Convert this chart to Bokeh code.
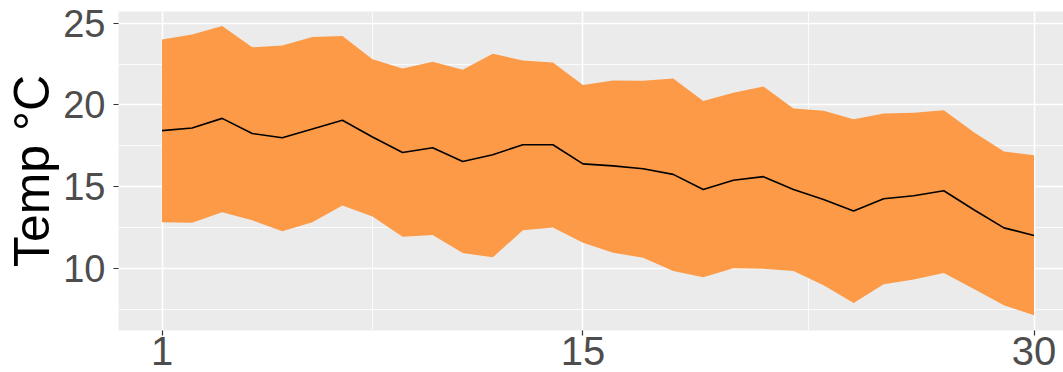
from bokeh.plotting import figure
from bokeh.models import Range1d, FixedTicker
from bokeh.embed import file_html
from bokeh.resources import INLINE

days = list(range(1, 31))
temp_upper = [24.0, 24.31, 24.82, 23.52, 23.64, 24.15, 24.21, 22.8, 22.23, 22.64,
              22.15, 23.13, 22.72, 22.6, 21.22, 21.5, 21.48, 21.62, 20.24, 20.75,
              21.13, 19.79, 19.64, 19.12, 19.48, 19.53, 19.67, 18.34, 17.16, 16.92]
temp_mean = [18.43, 18.59, 19.18, 18.26, 18.0, 18.53, 19.07, 18.04, 17.1, 17.39,
             16.55, 16.96, 17.57, 17.57, 16.4, 16.28, 16.1, 15.76, 14.83, 15.4,
             15.62, 14.83, 14.23, 13.52, 14.27, 14.45, 14.76, 13.6, 12.49, 12.03]
temp_lower = [12.84, 12.81, 13.45, 12.95, 12.28, 12.84, 13.85, 13.19, 11.95, 12.05,
              10.95, 10.69, 12.34, 12.52, 11.58, 10.97, 10.67, 9.85, 9.47, 10.03,
              10.0, 9.85, 8.98, 7.9, 9.04, 9.33, 9.73, 8.75, 7.76, 7.15]
x_ticks = [1, 15, 30]
x_minor = [8, 22.5]
y_ticks = [10, 15, 20, 25]
y_minor = [7.5, 12.5, 17.5, 22.5]

p = figure(width=1063, height=372, output_backend="svg", toolbar_location=None,
           x_range=Range1d(-0.447, 30.98), y_range=Range1d(6.22, 25.71),
           min_border_left=118, min_border_right=0, min_border_top=11,
           min_border_bottom=42)
p.background_fill_color = "#EBEBEB"
p.border_fill_color = "white"
p.outline_line_color = None

p.varea(x=days, y1=temp_lower, y2=temp_upper, fill_color="#FD9A48", fill_alpha=1.0)
p.line(x=days, y=temp_mean, line_color="black", line_width=1.6)

p.xaxis.ticker = FixedTicker(ticks=x_ticks, minor_ticks=x_minor)
p.yaxis.ticker = FixedTicker(ticks=y_ticks, minor_ticks=y_minor)

for g in (p.xgrid[0], p.ygrid[0]):
    g.grid_line_color = "white"
    g.grid_line_width = 1.6
    g.minor_grid_line_color = "white"
    g.minor_grid_line_width = 0.8
    g.level = "underlay"

for ax in (p.xaxis[0], p.yaxis[0]):
    ax.axis_line_color = None
    ax.major_tick_line_color = "#333333"
    ax.major_tick_line_width = 1.2
    ax.major_tick_in = 0
    ax.major_tick_out = 5
    ax.minor_tick_line_color = None
    ax.major_label_text_color = "#4D4D4D"
    ax.major_label_text_font = "Liberation Sans"

p.xaxis.major_label_text_font_size = "40px"
p.xaxis.major_label_standoff = 1
p.yaxis.major_label_text_font_size = "38px"
p.yaxis.major_label_standoff = 8
p.yaxis.axis_label = "Temp °C"
p.yaxis.axis_label_text_font = "Liberation Sans"
p.yaxis.axis_label_text_font_size = "50px"
p.yaxis.axis_label_text_font_style = "normal"
p.yaxis.axis_label_text_color = "black"
p.yaxis.axis_label_standoff = 0

open("out.html", "w").write(file_html(p, INLINE))
